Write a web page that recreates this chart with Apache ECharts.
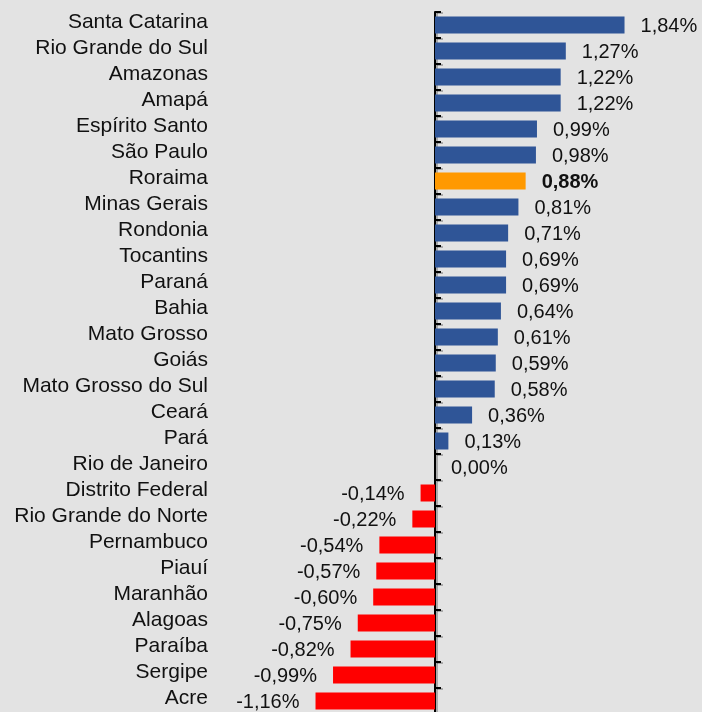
<!DOCTYPE html>
<html><head><meta charset="utf-8">
<script src="https://cdn.jsdelivr.net/npm/echarts@6/dist/echarts.min.js"></script>
<style>html,body{margin:0;padding:0;background:#e3e3e3}#c{width:702px;height:712px}</style>
</head><body><div id="c"></div>
<script>
const categories = ["Santa Catarina","Rio Grande do Sul","Amazonas","Amapá","Espírito Santo","São Paulo","Roraima","Minas Gerais","Rondonia","Tocantins","Paraná","Bahia","Mato Grosso","Goiás","Mato Grosso do Sul","Ceará","Pará","Rio de Janeiro","Distrito Federal","Rio Grande do Norte","Pernambuco","Piauí","Maranhão","Alagoas","Paraíba","Sergipe","Acre"];
const values = [1.84,1.27,1.22,1.22,0.99,0.98,0.88,0.81,0.71,0.69,0.69,0.64,0.61,0.59,0.58,0.36,0.13,0.00,-0.14,-0.22,-0.54,-0.57,-0.60,-0.75,-0.82,-0.99,-1.16];
const highlight = "Roraima";

const FONT = "'Liberation Sans', Arial, sans-serif";
const fmt = v => v.toFixed(2).replace('.', ',') + '%';

const data = values.map((v, i) => {
  const isH = categories[i] === highlight;
  return {
    value: v,
    itemStyle: { color: isH ? '#FF9900' : (v < 0 ? '#FF0000' : '#2F5597') },
    label: {
      position: v < 0 ? 'left' : 'right',
      fontWeight: isH ? 'bold' : 'normal'
    }
  };
});

const chart = echarts.init(document.getElementById('c'));
chart.setOption({
  backgroundColor: '#e3e3e3',
  animation: false,
  grid: { left: 0, right: 0, top: 12, bottom: -2, containLabel: false, outerBoundsMode: 'none' },
  xAxis: { type: 'value', min: -435/103, max: 267/103, show: false, splitLine: { show: false } },
  yAxis: {
    type: 'category', data: categories, inverse: true,
    axisLine: { onZero: true, lineStyle: { color: '#000', width: 2, shadowColor: 'rgba(0,0,0,0.25)', shadowOffsetX: 2, shadowOffsetY: 1 } },
    axisTick: { show: true, interval: 0, inside: true, length: 6, lineStyle: { color: '#000', width: 2, shadowColor: 'rgba(0,0,0,0.25)', shadowOffsetX: 2, shadowOffsetY: 1 } },
    axisLabel: { interval: 0, margin: -208, align: 'right', verticalAlign: 'bottom', lineHeight: 6, fontFamily: FONT, fontSize: 21, color: '#111' },
    splitLine: { show: false }
  },
  series: [{
    type: 'bar', data: data, barWidth: 17,
    label: { show: true, distance: 16, offset: [0, 1.5], fontFamily: FONT, fontSize: 20, color: '#111', formatter: p => fmt(p.value) }
  }]
});
</script></body></html>
